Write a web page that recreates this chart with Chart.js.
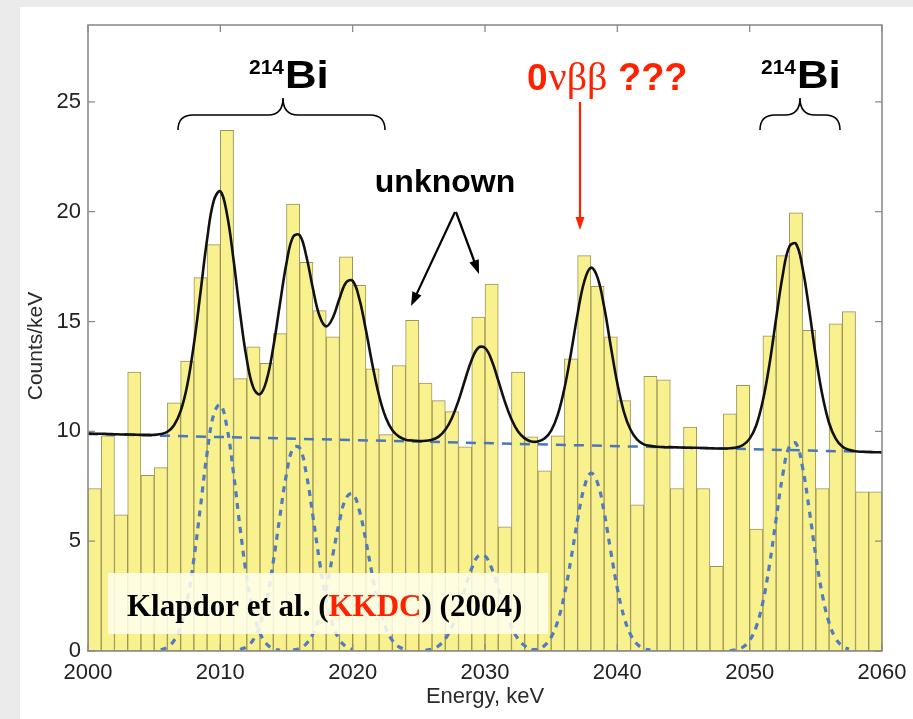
<!DOCTYPE html>
<html><head><meta charset="utf-8">
<script src="https://cdn.jsdelivr.net/npm/chart.js@4/dist/chart.umd.min.js"></script>
<style>html,body{margin:0;padding:0;background:#ebebeb;}#wrap{width:913px;height:719px;}</style>
</head><body><div id="wrap"><canvas id="c" width="913" height="719"></canvas></div>
<script>
// ---- data ----
const binStarts = [2000,2001,2002,2003,2004,2005,2006,2007,2008,2009,2010,2011,2012,2013,2014,2015,2016,2017,2018,2019,2020,2021,2022,2023,2024,2025,2026,2027,2028,2029,2030,2031,2032,2033,2034,2035,2036,2037,2038,2039,2040,2041,2042,2043,2044,2045,2046,2047,2048,2049,2050,2051,2052,2053,2054,2055,2056,2057,2058,2059];
const counts = [7.4,9.8,6.2,12.7,8.0,8.35,11.3,13.2,17.0,18.5,23.7,12.4,13.85,13.1,14.45,20.35,17.7,15.5,14.3,17.95,16.65,12.85,9.85,13.0,15.05,12.2,11.4,10.9,9.3,15.2,16.7,5.65,12.7,9.75,8.2,9.8,13.3,18.0,16.6,14.3,11.4,6.65,12.5,12.35,7.4,10.2,7.4,3.85,10.8,12.1,5.55,14.35,18.0,19.95,14.6,7.4,14.9,15.45,7.25,7.25];

// total fit curve, sampled every 0.5 keV from 2000
const fitStart = 2000;
const fitCounts = [9.90,9.89,9.89,9.88,9.87,9.86,9.86,9.85,9.84,9.84,9.84,9.88,9.98,10.28,10.92,12.10,13.96,16.32,18.74,20.49,
20.93,19.90,17.80,15.35,13.27,11.98,11.69,12.34,13.83,15.78,17.67,18.86,18.93,17.97,16.49,15.25,14.78,15.17,16.04,16.78,
16.85,16.04,14.61,13.01,11.61,10.63,10.05,9.76,9.62,9.58,9.56,9.57,9.62,9.76,10.07,10.61,11.40,12.36,13.26,13.81,
13.80,13.24,12.32,11.35,10.55,9.99,9.68,9.54,9.54,9.67,10.03,10.76,11.95,13.57,15.36,16.82,17.45,17.01,15.68,13.89,
12.18,10.88,10.07,9.62,9.41,9.34,9.30,9.28,9.28,9.27,9.26,9.25,9.25,9.24,9.23,9.22,9.22,9.23,9.26,9.38,
9.67,10.28,11.40,13.07,15.14,17.12,18.42,18.54,17.43,15.53,13.41,11.63,10.38,9.67,9.31,9.16,9.09,9.07,9.06,9.05,9.05];

// background level (dashed)
const bgEnergy = [2000, 2060];
const bgCounts = [9.88, 9.05];

// individual peak components (dotted), each sampled every 0.5 keV from its start
const peakStarts = [2005.5, 2011.5, 2015.5, 2025.5, 2033.5, 2048.5];
const peak2010 = [0.06,0.17,0.47,1.13,2.32,4.19,6.57,9.01,10.77,11.22,10.19,8.08,5.57,3.35,1.76,0.81,0.32,0.11,0.03];
const peak2016 = [0.07,0.20,0.52,1.18,2.34,4.06,6.12,8.06,9.24,9.24,8.06,6.12,4.06,2.34,1.18,0.52,0.20,0.07];
const peak2020 = [0.04,0.12,0.33,0.78,1.58,2.82,4.37,5.90,6.96,7.16,6.41,5.01,3.41,2.02,1.05,0.48,0.19,0.06];
const peak2030 = [0.03,0.09,0.24,0.55,1.10,1.90,2.86,3.77,4.33,4.33,3.77,2.86,1.90,1.10,0.55,0.24,0.09,0.03];
const peak2038 = [0.03,0.09,0.25,0.63,1.36,2.56,4.19,5.99,7.45,8.09,7.66,6.33,4.55,2.85,1.56,0.75,0.31,0.11,0.04];
const peak2053 = [0.02,0.06,0.18,0.48,1.11,2.23,3.93,6.01,8.01,9.32,9.45,8.35,6.44,4.32,2.53,1.29,0.57,0.22,0.08];
const peakSeries = [peak2010, peak2016, peak2020, peak2030, peak2038, peak2053];

const xTicks = [2000,2010,2020,2030,2040,2050,2060];
const yTicks = [0,5,10,15,20,25];

// ---- build chart ----
const pts = (start, arr) => arr.map((y,i) => ({x: start + i*0.5, y}));
const SANS = "'Liberation Sans', Arial, sans-serif";
const SERIF = "'Liberation Serif', 'Times New Roman', serif";

const datasets = [{
  type: 'bar',
  data: binStarts.map((e,i) => ({x: e + 0.5, y: counts[i]})),
  backgroundColor: '#f8f18e',
  borderColor: '#9d9458',
  borderWidth: 1,
  borderSkipped: false,
  barPercentage: 1,
  categoryPercentage: 1,
  order: 10
}];
peakSeries.forEach((arr, k) => datasets.push({
  type: 'line', data: pts(peakStarts[k], arr),
  borderColor: '#4f7cc0', borderWidth: 3.2, borderDash: [6,6],
  pointRadius: 0, tension: 0.4, fill: false, order: 5
}));
datasets.push({
  type: 'line', data: bgEnergy.map((e,i) => ({x: e, y: bgCounts[i]})),
  borderColor: '#4a76bb', borderWidth: 2.5, borderDash: [10,8],
  pointRadius: 0, fill: false, order: 3
});
datasets.push({
  type: 'line', data: pts(fitStart, fitCounts),
  borderColor: '#111111', borderWidth: 2.6,
  pointRadius: 0, tension: 0.4, fill: false, order: 1
});

function arrow(ctx, x1, y1, x2, y2, color, w, hl, hw) {
  const a = Math.atan2(y2 - y1, x2 - x1);
  ctx.save();
  ctx.strokeStyle = color; ctx.fillStyle = color; ctx.lineWidth = w;
  ctx.beginPath(); ctx.moveTo(x1, y1);
  ctx.lineTo(x2 - Math.cos(a) * hl * 0.8, y2 - Math.sin(a) * hl * 0.8); ctx.stroke();
  ctx.beginPath();
  ctx.moveTo(x2, y2);
  ctx.lineTo(x2 - Math.cos(a) * hl + Math.sin(a) * hw / 2, y2 - Math.sin(a) * hl - Math.cos(a) * hw / 2);
  ctx.lineTo(x2 - Math.cos(a) * hl - Math.sin(a) * hw / 2, y2 - Math.sin(a) * hl + Math.cos(a) * hw / 2);
  ctx.closePath(); ctx.fill();
  ctx.restore();
}
function brace(ctx, x1, x2, xm, yh, yt, ye) {
  const r = 15;
  ctx.beginPath();
  ctx.moveTo(x1, ye);
  ctx.quadraticCurveTo(x1, yh, x1 + r, yh);
  ctx.lineTo(xm - r, yh);
  ctx.quadraticCurveTo(xm, yh, xm, yt);
  ctx.quadraticCurveTo(xm, yh, xm + r, yh);
  ctx.lineTo(x2 - r, yh);
  ctx.quadraticCurveTo(x2, yh, x2, ye);
  ctx.stroke();
}
function biLabel(ctx, x, y) {
  ctx.fillStyle = '#000';
  ctx.textBaseline = 'alphabetic'; ctx.textAlign = 'left';
  ctx.font = 'bold 21px ' + SANS;
  ctx.fillText('214', x, y - 14);
  const w = ctx.measureText('214').width;
  ctx.save();
  ctx.translate(x + w + 1, y); ctx.scale(1.15, 1);
  ctx.font = 'bold 38px ' + SANS;
  ctx.fillText('Bi', 0, 0);
  ctx.restore();
}

const decor = {
  id: 'decor',
  beforeDraw(chart) {
    const ctx = chart.ctx;
    ctx.save();
    ctx.fillStyle = '#ebebeb'; ctx.fillRect(0, 0, 913, 719);
    ctx.fillStyle = '#ffffff'; ctx.fillRect(20, 7, 893, 712);
    ctx.restore();
  },
  afterDatasetsDraw(chart) {
    const ctx = chart.ctx, a = chart.chartArea;
    const xs = chart.scales.x, ys = chart.scales.y;
    ctx.save();
    // label box
    ctx.fillStyle = 'rgba(255,255,238,0.86)';
    ctx.fillRect(108, 573, 440, 61);
    ctx.font = 'bold 31px ' + SERIF;
    ctx.textBaseline = 'alphabetic'; ctx.textAlign = 'left';
    let tx = 127; const ty = 616;
    const parts = [['Klapdor et al. (', '#000'], ['KKDC', '#ff2200'], [') (2004)', '#000']];
    parts.forEach(([t, c]) => { ctx.fillStyle = c; ctx.fillText(t, tx, ty); tx += ctx.measureText(t).width; });

    // frame and inward ticks
    ctx.strokeStyle = '#8c8c8c'; ctx.lineWidth = 1.6;
    ctx.strokeRect(a.left, a.top, a.right - a.left, a.bottom - a.top);
    ctx.lineWidth = 1.3;
    const tl = 7;
    ctx.beginPath();
    xTicks.forEach(v => {
      const px = xs.getPixelForValue(v);
      ctx.moveTo(px, a.bottom); ctx.lineTo(px, a.bottom - tl);
      ctx.moveTo(px, a.top); ctx.lineTo(px, a.top + tl);
    });
    yTicks.forEach(v => {
      const py = ys.getPixelForValue(v);
      ctx.moveTo(a.left, py); ctx.lineTo(a.left + tl, py);
      ctx.moveTo(a.right, py); ctx.lineTo(a.right - tl, py);
    });
    ctx.stroke();

    // axis titles
    ctx.fillStyle = '#2a2a2a';
    ctx.font = '22px ' + SANS;
    ctx.textAlign = 'center'; ctx.textBaseline = 'middle';
    ctx.fillText('Energy, keV', (a.left + a.right) / 2, 697);
    ctx.save();
    ctx.translate(36, 346); ctx.rotate(-Math.PI / 2);
    ctx.font = '21px ' + SANS;
    ctx.fillText('Counts/keV', 0, 0);
    ctx.restore();

    // annotations
    biLabel(ctx, 249, 88);
    biLabel(ctx, 761, 88);
    ctx.strokeStyle = '#000'; ctx.lineWidth = 1.6;
    brace(ctx, 178, 385, 283, 115, 98, 130);
    brace(ctx, 760, 840, 800, 115, 98, 130);

    // 0vbb ???
    ctx.fillStyle = '#ff2200'; ctx.textAlign = 'left'; ctx.textBaseline = 'alphabetic';
    let rx = 527; const ry = 90;
    ctx.font = 'bold 37px ' + SANS; ctx.fillText('0', rx, ry); rx += ctx.measureText('0').width + 1;
    ctx.font = '40px ' + SERIF; ctx.fillText('\u03bd\u03b2\u03b2', rx, ry); rx += ctx.measureText('\u03bd\u03b2\u03b2').width;
    ctx.font = 'bold 38px ' + SANS; ctx.fillText(' ???', rx, ry);
    arrow(ctx, 580, 102, 580, 230, '#ff2200', 2.2, 13, 9);

    // unknown
    ctx.fillStyle = '#000';
    ctx.font = 'bold 32px ' + SANS; ctx.textAlign = 'center';
    ctx.fillText('unknown', 445, 192);
    arrow(ctx, 455, 212, 411, 306, '#000', 2.2, 14, 10);
    arrow(ctx, 456, 212, 479, 274, '#000', 2.2, 14, 10);
    ctx.restore();
  }
};

new Chart(document.getElementById('c'), {
  type: 'bar',
  data: { datasets },
  options: {
    responsive: false, animation: false, devicePixelRatio: 1,
    layout: { padding: { top: 25, right: 31, left: 0, bottom: 0 } },
    plugins: { legend: { display: false }, tooltip: { enabled: false } },
    scales: {
      x: {
        type: 'linear', min: 2000, max: 2060, offset: false,
        grid: { display: false, drawTicks: false, offset: false }, border: { display: false },
        afterBuildTicks: s => { s.ticks = xTicks.map(v => ({ value: v })); },
        afterFit: s => { s.height = 68; s.paddingLeft = 0; s.paddingRight = 0; },
        ticks: { padding: 9, color: '#222', font: { family: SANS, size: 22 }, maxRotation: 0, autoSkip: false,
                 callback: v => String(v) }
      },
      y: {
        type: 'linear', min: 0, max: 28.5,
        grid: { display: false, drawTicks: false }, border: { display: false },
        afterBuildTicks: s => { s.ticks = yTicks.map(v => ({ value: v })); },
        afterFit: s => { s.width = 88; s.paddingTop = 0; s.paddingBottom = 0; },
        ticks: { padding: 7, color: '#222', font: { family: SANS, size: 22 }, callback: v => String(v) }
      }
    }
  },
  plugins: [decor]
});
</script></body></html>
